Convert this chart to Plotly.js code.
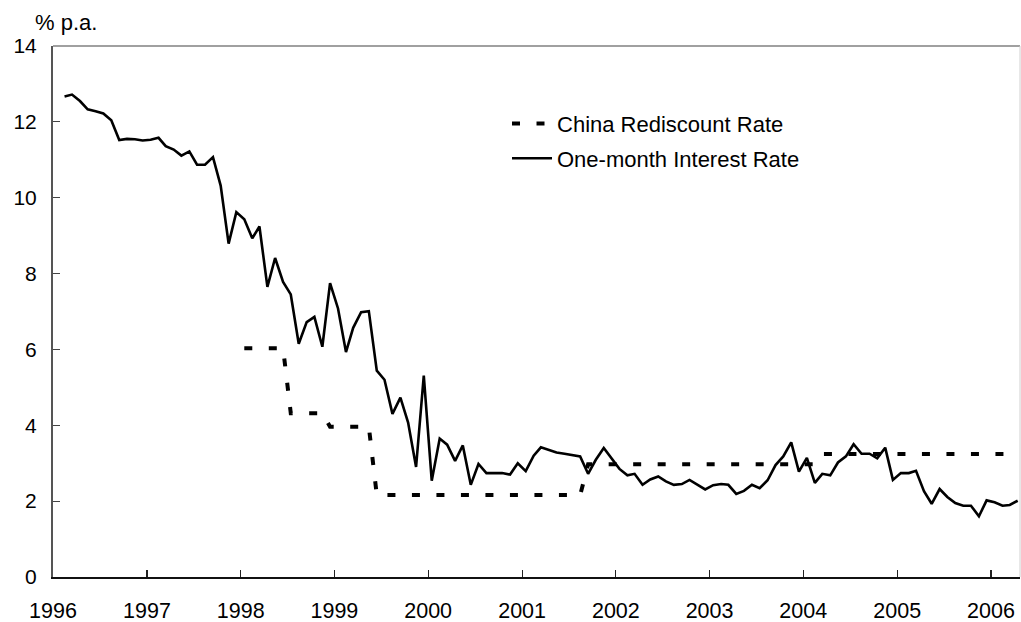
<!DOCTYPE html>
<html>
<head>
<meta charset="utf-8">
<script src="https://cdn.plot.ly/plotly-3.0.1.min.js"></script>
<style>
html,body{margin:0;padding:0;background:#fff;}
#chart{width:1021px;height:622px;}
</style>
</head>
<body>
<div id="chart"></div>
<script>
// One-month interest rate, monthly, Feb 1996 - Apr 2006 (% p.a.)
var interestStart = [1996, 2];
var interestRate = [
  12.67, 12.72, 12.55, 12.33, 12.28, 12.22, 12.04, 11.52, 11.55, 11.54, 11.51,
  11.53, 11.58, 11.36, 11.27, 11.11, 11.22, 10.87, 10.87, 11.07, 10.32, 8.79, 9.62,
  9.43, 8.93, 9.24, 7.65, 8.41, 7.78, 7.45, 6.15, 6.72, 6.86, 6.07, 7.75,
  7.08, 5.93, 6.57, 6.98, 7.01, 5.44, 5.20, 4.30, 4.73, 4.07, 2.90, 5.31,
  2.54, 3.65, 3.49, 3.06, 3.47, 2.43, 2.98, 2.74, 2.75, 2.74, 2.70, 3.00,
  2.79, 3.20, 3.42, 3.35, 3.28, 3.25, 3.22, 3.18, 2.72, 3.09, 3.40, 3.14,
  2.85, 2.68, 2.72, 2.43, 2.57, 2.65, 2.52, 2.43, 2.45, 2.56, 2.43, 2.31,
  2.42, 2.45, 2.43, 2.19, 2.27, 2.43, 2.34, 2.55, 2.95, 3.18, 3.55, 2.78,
  3.14, 2.48, 2.72, 2.68, 3.02, 3.18, 3.50, 3.25, 3.25, 3.13, 3.41, 2.56,
  2.74, 2.74, 2.80, 2.26, 1.93, 2.32, 2.11, 1.95, 1.88, 1.88, 1.60, 2.02,
  1.97, 1.88, 1.90, 2.01
];

// China rediscount rate, monthly, Jan 1998 - Apr 2006 (% p.a.)
var rediscountStart = [1998, 1];
var rediscountRate = [
  6.03, 6.03, 6.03, 6.03, 6.03, 6.03, 4.32, 4.32, 4.32, 4.32, 4.32, 3.96,
  3.96, 3.96, 3.96, 3.96, 3.96, 2.16, 2.16, 2.16, 2.16, 2.16, 2.16, 2.16,
  2.16, 2.16, 2.16, 2.16, 2.16, 2.16, 2.16, 2.16, 2.16, 2.16, 2.16, 2.16,
  2.16, 2.16, 2.16, 2.16, 2.16, 2.16, 2.16, 2.16, 2.97, 2.97, 2.97, 2.97,
  2.97, 2.97, 2.97, 2.97, 2.97, 2.97, 2.97, 2.97, 2.97, 2.97, 2.97, 2.97,
  2.97, 2.97, 2.97, 2.97, 2.97, 2.97, 2.97, 2.97, 2.97, 2.97, 2.97, 2.97,
  2.97, 2.97, 3.24, 3.24, 3.24, 3.24, 3.24, 3.24, 3.24, 3.24, 3.24, 3.24,
  3.24, 3.24, 3.24, 3.24, 3.24, 3.24, 3.24, 3.24, 3.24, 3.24, 3.24, 3.24,
  3.24, 3.24, 3.24, 3.24
];

var seriesNames = ['China Rediscount Rate', 'One-month Interest Rate'];
var yTickVals = [0, 2, 4, 6, 8, 10, 12, 14];
var yAxisLabel = '% p.a.';

function monthDates(start, n) {
  var out = [];
  var y = start[0], m = start[1];
  for (var i = 0; i < n; i++) {
    out.push(y + '-' + (m < 10 ? '0' + m : m) + '-15');
    m++;
    if (m > 12) { m = 1; y++; }
  }
  return out;
}

var FONT = 'Liberation Sans, Arial, sans-serif';

var traces = [
  {
    x: monthDates(rediscountStart, rediscountRate.length),
    y: rediscountRate,
    name: seriesNames[0],
    legendgroup: 'g1',
    type: 'scatter',
    mode: 'lines',
    line: {color: '#000000', width: 4, dash: '8px,16.5px'},
    hoverinfo: 'x+y'
  },
  {
    x: monthDates(interestStart, interestRate.length),
    y: interestRate,
    name: seriesNames[1],
    legendgroup: 'g2',
    type: 'scatter',
    mode: 'lines',
    line: {color: '#000000', width: 2.6},
    hoverinfo: 'x+y'
  }
];

var layout = {
  width: 1021,
  height: 622,
  margin: {l: 53, r: 1, t: 46, b: 45, pad: 0},
  paper_bgcolor: '#ffffff',
  plot_bgcolor: '#ffffff',
  font: {family: FONT, size: 22, color: '#000000'},
  showlegend: true,
  legend: {
    x: 0.4695, y: 0.893, xanchor: 'left', yanchor: 'top',
    bgcolor: 'rgba(0,0,0,0)', borderwidth: 0,
    font: {family: FONT, size: 22, color: '#000000'},
    itemwidth: 40,
    traceorder: 'grouped',
    tracegroupgap: 3
  },
  xaxis: {
    type: 'date',
    range: ['1996-01-01', '2006-04-24'],
    tick0: '1996-01-01',
    dtick: 'M12',
    tickformat: '%Y',
    ticks: 'inside',
    ticklen: 7,
    tickwidth: 1.2,
    tickcolor: '#222222',
    showline: true,
    linecolor: '#111111',
    linewidth: 2,
    showgrid: false,
    zeroline: false,
    ticklabelstandoff: 13,
    tickfont: {family: FONT, size: 21.5, color: '#000000'},
    fixedrange: true
  },
  yaxis: {
    range: [0, 14],
    tickvals: yTickVals,
    ticks: 'inside',
    ticklen: 7,
    tickwidth: 1.2,
    tickcolor: '#444444',
    showline: true,
    linecolor: '#555555',
    linewidth: 2,
    showgrid: false,
    zeroline: false,
    ticklabelstandoff: 10,
    tickfont: {family: FONT, size: 21, color: '#000000'},
    fixedrange: true
  },
  shapes: [
    {type: 'line', xref: 'paper', yref: 'paper', x0: 0, x1: 1, y0: 1, y1: 1,
     line: {color: '#a0a0a0', width: 2}},
    {type: 'line', xref: 'paper', yref: 'paper', x0: 1, x1: 1, y0: 0, y1: 1,
     line: {color: '#d0d0d0', width: 1}}
  ],
  annotations: [
    {text: yAxisLabel, xref: 'paper', yref: 'paper', x: -0.0207, y: 1.045,
     xanchor: 'left', yanchor: 'middle', showarrow: false,
     font: {family: FONT, size: 22, color: '#000000'}}
  ]
};

Plotly.newPlot('chart', traces, layout, {displayModeBar: false, staticPlot: true});
</script>
</body>
</html>
